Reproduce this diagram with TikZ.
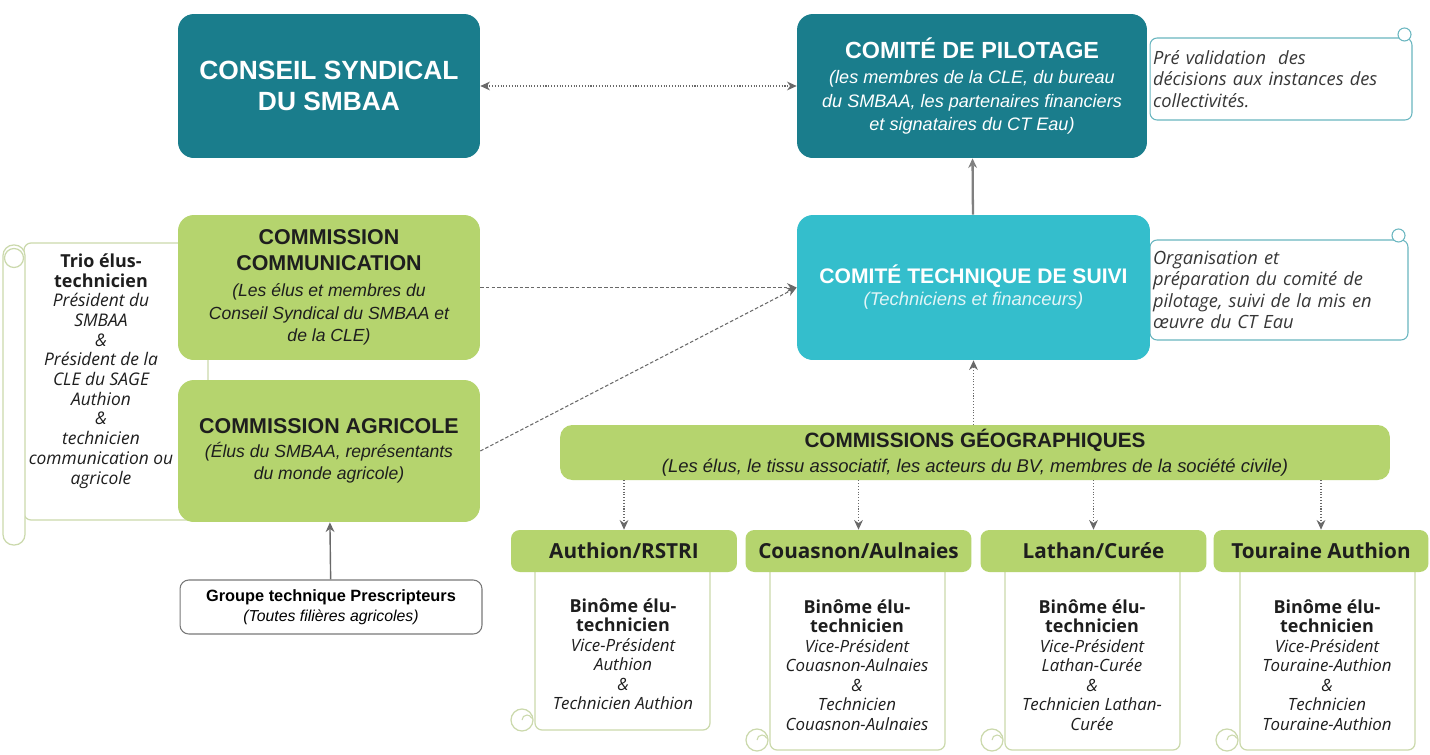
\documentclass[tikz,border=0pt]{standalone}
\usepackage{fontspec}
\setmainfont{Liberation Sans}
\newfontfamily\opensans{Open Sans}
\usetikzlibrary{positioning,calc,arrows.meta}

\definecolor{tealfonce}{RGB}{26,125,140}
\definecolor{tealclair}{RGB}{52,190,204}
\definecolor{vertcom}{RGB}{181,212,110}
\definecolor{grisfl}{RGB}{105,105,105}
\definecolor{grisbord}{RGB}{120,120,120}
\definecolor{bordrlx}{RGB}{203,217,172}
\definecolor{bordnote}{RGB}{105,182,192}
\definecolor{encre}{RGB}{30,30,30}
\definecolor{encrenote}{RGB}{55,55,55}

\newcommand{\taille}[2]{\fontsize{#1}{#2}\selectfont}
\newcommand{\titre}{\upshape\bfseries\taille{12.2}{14}}
\newcommand{\gras}{\upshape\bfseries\taille{10.2}{11}}

\begin{document}
\begin{tikzpicture}[x=0.02cm, y=-0.02cm, >={Stealth[length=5.5pt,width=5pt]},
	comite/.style={rounded corners=9pt, fill=tealfonce, text=white, align=center, inner sep=0pt},
	commission/.style={rounded corners=9pt, fill=vertcom, text=encre, align=center, inner sep=0pt},
	secteur/.style={rounded corners=5pt, fill=vertcom, text=encre, inner sep=0pt, minimum width=4.52cm, minimum height=0.84cm, font=\opensans\bfseries\taille{11.8}{13}},
	rouleau/.style={draw=bordrlx, line width=0.7pt, fill=white, rounded corners=4pt},
	binome/.style={align=center, text=encre, inner sep=0pt, font=\opensans\itshape\taille{9.6}{11.1}},
	note/.style={draw=bordnote, line width=0.6pt, fill=white, rounded corners=4pt, align=left, text=encrenote, inner xsep=0.06cm, font=\opensans\itshape\taille{10.4}{12.2}},
	lien/.style={draw=grisfl, line width=0.6pt, ->},
	pointille/.style={lien, densely dotted},
	tirets/.style={lien, dash pattern=on 2pt off 1.2pt}]

	\useasboundingbox[fill=white] (0,0) rectangle (1430,754);

	% rouleau du trio, a gauche
	\draw[rouleau] (24,243) rectangle (208,520);
	\draw[rouleau, rounded corners=6pt] (3,245) rectangle (25,545);
	\draw[rouleau] (14,258) circle[radius=0.19cm];
	\node[binome, font=\opensans\itshape\taille{9.9}{11.2}] (trio) at (101,371) {\gras Trio élus-\\ \gras technicien\\ Président du\\ SMBAA\\ \&\\ Président de la\\ CLE du SAGE\\ Authion\\ \&\\ technicien\\ communication ou\\ agricole};

	% volets des binomes
	\foreach \g/\h in {535/730, 770/750, 1005/750, 1240/750}{
		\draw[rouleau] (\g-13,\h-10) circle[radius=0.22cm];
		\draw[rouleau] (\g,560) rectangle (\g+175,\h);
		\draw[bordrlx, line width=0.6pt] (\g-13,\h-10) arc[start angle=180, end angle=20, radius=0.1cm];
	}
	\node[binome] (b1) at (623,654) {\gras Binôme élu-\\ \gras technicien\\ Vice-Président\\ Authion\\ \&\\ Technicien Authion};
	\node[binome] (b2) at (857,665) {\gras Binôme élu-\\ \gras technicien\\ Vice-Président\\ Couasnon-Aulnaies\\ \&\\ Technicien\\ Couasnon-Aulnaies};
	\node[binome] (b3) at (1092,665) {\gras Binôme élu-\\ \gras technicien\\ Vice-Président\\ Lathan-Curée\\ \&\\ Technicien Lathan-\\ Curée};
	\node[binome] (b4) at (1327,665) {\gras Binôme élu-\\ \gras technicien\\ Vice-Président\\ Touraine-Authion\\ \&\\ Technicien\\ Touraine-Authion};

	% notes a droite
	\node[note, text width=5.12cm, minimum height=1.64cm] (notepilot) at (1281,79) {Pré validation~ des\\ décisions aux instances des\\ collectivités.};
	\draw[draw=bordnote, line width=0.6pt, fill=white] ($(notepilot.north east)+(-8,-3)$) circle[radius=0.13cm];
	\node[note, text width=5.04cm, minimum height=2cm] (notetech) at (1279,290) {Organisation et\\ préparation du comité de\\ pilotage, suivi de la mis en\\ œuvre du CT Eau};
	\draw[draw=bordnote, line width=0.6pt, fill=white] ($(notetech.north east)+(-10,-4)$) circle[radius=0.13cm];

	\node[comite, minimum width=6.04cm, minimum height=2.88cm, font=\bfseries\taille{15}{17.6}] (conseil) at (329,86) {CONSEIL SYNDICAL\\ DU SMBAA};
	\node[comite, minimum width=7cm, minimum height=2.88cm, font=\itshape\taille{10.3}{13.3}] (pilotage) at (972,86) {\upshape\bfseries\taille{13.3}{15}COMITÉ DE PILOTAGE\\[1pt] (les membres de la CLE, du bureau\\ du SMBAA, les partenaires financiers\\ et signataires du CT Eau)};
	\node[comite, fill=tealclair, minimum width=7.06cm, minimum height=2.9cm, font=\itshape\taille{10.5}{12.5}] (technique) at (973.5,287.5) {\upshape\bfseries\taille{12}{14}COMITÉ TECHNIQUE DE SUIVI\\ \textcolor{white!85!tealclair}{(Techniciens et financeurs)}};

	\node[commission, minimum width=6.04cm, minimum height=2.9cm, font=\itshape\taille{10}{12.8}] (communication) at (329,287.5) {\titre COMMISSION\\[2pt] \titre COMMUNICATION\\[2pt] (Les élus et membres du\\ Conseil Syndical du SMBAA et\\ de la CLE)};
	\node[commission, minimum width=6.04cm, minimum height=2.84cm, font=\itshape\taille{10}{12.5}] (agricole) at (329,451) {\titre COMMISSION AGRICOLE\\[1.5pt] (Élus du SMBAA, représentants\\ du monde agricole)};
	\node[draw=grisbord, line width=0.6pt, rounded corners=5pt, fill=white, minimum width=6.04cm, minimum height=1.08cm, align=center, inner sep=0pt, font=\itshape\taille{9}{11.3}] (groupe) at (331,607) {\upshape\bfseries\taille{9.3}{11}Groupe technique Prescripteurs\\ (Toutes filières agricoles)};

	\node[commission, rounded corners=7pt, minimum width=16.6cm, minimum height=1.1cm, font=\itshape\taille{10.5}{14.2}] (geo) at (975,452.5) {\upshape\bfseries\taille{11.8}{14}COMMISSIONS GÉOGRAPHIQUES\\ (Les élus, le tissu associatif, les acteurs du BV, membres de la société civile)};

	\node[secteur] (authion) at (624,551) {Authion/RSTRI};
	\node[secteur] (couasnon) at (858.5,551) {Couasnon/Aulnaies};
	\node[secteur] (lathan) at (1093.5,551) {Lathan/Curée};
	\node[secteur, minimum width=4.3cm] (touraine) at (1321,551) {Touraine Authion};

	% liens
	\draw[pointille, <->] (conseil) -- (pilotage);
	\draw[lien, draw=grisfl!85, line width=1.3pt] (technique) -- (pilotage);
	\draw[tirets] (communication) -- (technique);
	\draw[tirets] (agricole.east) -- (technique.west);
	\draw[lien, line width=0.8pt] (groupe) -- (agricole);
	\draw[pointille] (geo.north -| technique.south) -- (technique.south);
	\foreach \s in {authion,couasnon,lathan,touraine}
		\draw[pointille] (geo.south -| \s.north) -- (\s.north);
	%\draw[pointille] (geo.south -| touraine.north) -- (touraine.north);

\end{tikzpicture}
\end{document}
